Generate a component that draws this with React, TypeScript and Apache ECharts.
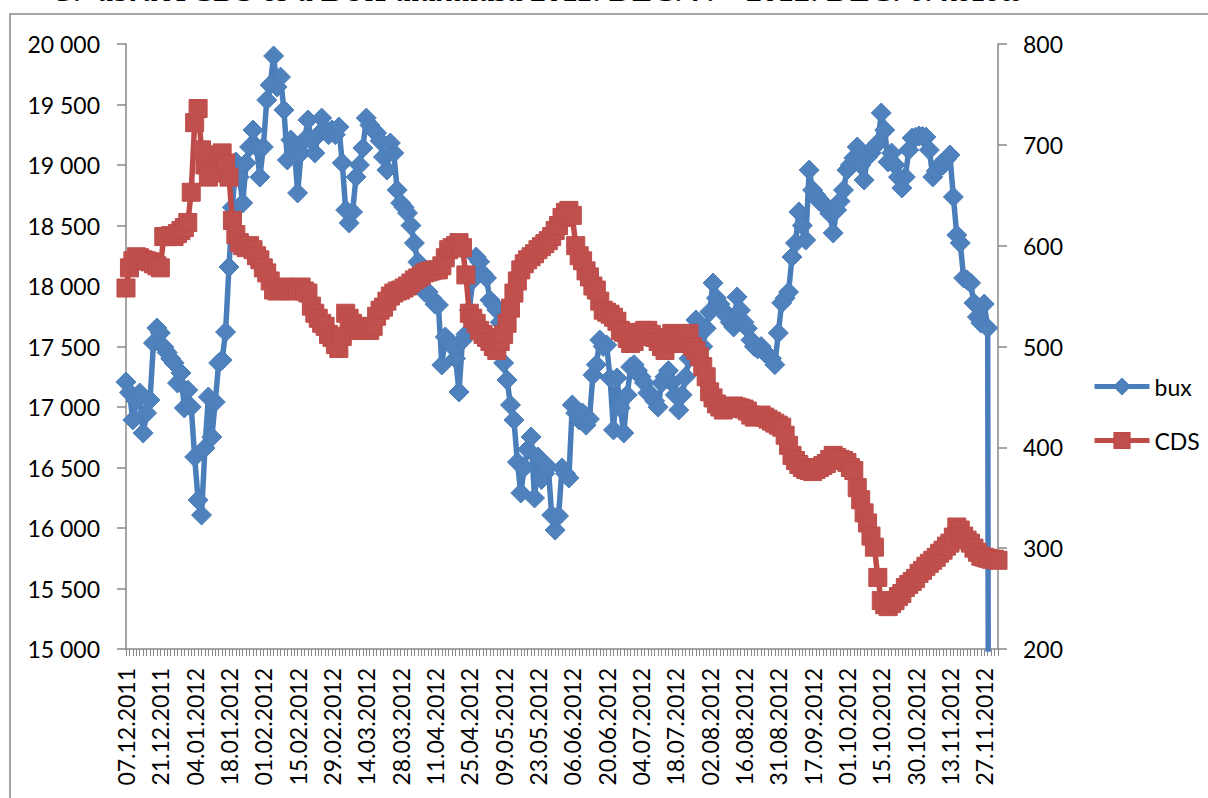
import React, { useEffect, useRef } from "react";
import * as echarts from "echarts";

const tickLabels = [
  "07.12.2011", "21.12.2011", "04.01.2012", "18.01.2012", "01.02.2012", "15.02.2012",
  "29.02.2012", "14.03.2012", "28.03.2012", "11.04.2012", "25.04.2012", "09.05.2012",
  "23.05.2012", "06.06.2012", "20.06.2012", "04.07.2012", "18.07.2012", "02.08.2012",
  "16.08.2012", "31.08.2012", "17.09.2012", "01.10.2012", "15.10.2012", "30.10.2012",
  "13.11.2012", "27.11.2012",
];

const bux = [
  17206, 17120, 16893, 17050, 17116, 16785, 16950, 17058, 17529, 17653,
  17612, 17496, 17450, 17400, 17364, 17198, 17281, 16992, 17140, 17000,
  16587, 16231, 16107, 16661, 17083, 16752, 17041, 17364, 17388, 17620,
  18157, 18650, 19025, 18900, 18686, 19017, 19149, 19289, 19150, 18900,
  19149, 19537, 19661, 19901, 19645, 19727, 19455, 19041, 19207, 19149,
  18769, 19100, 19207, 19372, 19200, 19099, 19250, 19388, 19300, 19250,
  19289, 19250, 19314, 19017, 18628, 18521, 18612, 18901, 19000, 19140,
  19388, 19330, 19290, 19264, 19200, 19066, 18958, 19182, 19099, 18793,
  18686, 18650, 18603, 18500, 18355, 18198, 18100, 17950, 17950, 17900,
  17850, 17843, 17347, 17579, 17550, 17500, 17400, 17124, 17550, 17600,
  17800, 18050, 18240, 18200, 18100, 18066, 17884, 17850, 17802, 17700,
  17364, 17223, 17017, 16893, 16545, 16289, 16500, 16650, 16752, 16248,
  16587, 16400, 16450, 16504, 16107, 15983, 16100, 16496, 16450, 16413,
  17017, 16950, 16893, 16950, 16850, 16900, 17264, 17350, 17554, 17500,
  17512, 17240, 16810, 17240, 16992, 16785, 17100, 17331, 17350, 17300,
  17250, 17200, 17116, 17100, 17050, 16999, 17198, 17250, 17300, 17200,
  17100, 16975, 17100, 17250, 17400, 17550, 17719, 17600, 17500, 17650,
  17785, 18025, 17900, 17850, 17800, 17750, 17700, 17661, 17909, 17800,
  17700, 17650, 17554, 17500, 17480, 17500, 17450, 17430, 17400, 17350,
  17612, 17860, 17900, 17950, 18240, 18355, 18612, 18500, 18380, 18958,
  18793, 18750, 18700, 18686, 18650, 18600, 18438, 18628, 18700, 18793,
  18958, 19000, 19058, 19149, 19000, 18876, 19066, 19100, 19150, 19182,
  19430, 19289, 19025, 19099, 19000, 18900, 18810, 18901, 19124, 19223,
  19230, 19240, 19235, 19231, 19124, 18901, 18950, 19000, 19000, 19050,
  19083, 18736, 18421, 18355, 18066, 18050, 18025, 17860, 17744, 17694,
  17851, 17653, 0, 0, 0,
];

const cds = [
  558, 578, 585, 589, 588, 586, 585, 584, 582, 580,
  578, 609, 609, 610, 609, 612, 615, 618, 623, 653,
  722, 736, 695, 680, 668, 672, 690, 688, 692, 682,
  668, 625, 611, 603, 600, 598, 600, 596, 590, 586,
  578, 573, 565, 556, 555, 556, 559, 557, 556, 555,
  556, 559, 555, 553, 540, 533, 528, 523, 520, 512,
  509, 502, 498, 510, 533, 528, 523, 520, 516, 516,
  518, 516, 520, 530, 536, 539, 545, 550, 553, 555,
  556, 558, 560, 563, 566, 568, 570, 573, 574, 575,
  576, 576, 580, 588, 596, 598, 600, 603, 598, 571,
  533, 528, 523, 516, 512, 509, 505, 500, 496, 505,
  512, 523, 538, 553, 565, 576, 582, 586, 589, 592,
  596, 599, 602, 605, 609, 615, 620, 628, 633, 635,
  630, 600, 590, 585, 575, 569, 560, 556, 545, 536,
  534, 532, 529, 525, 516, 514, 508, 503, 505, 510,
  514, 516, 516, 512, 509, 505, 500, 496, 503, 513,
  510, 505, 503, 510, 513, 500, 496, 490, 480, 470,
  455, 449, 443, 440, 437, 439, 440, 441, 440, 439,
  438, 436, 432, 430, 431, 432, 430, 428, 426, 424,
  422, 420, 412, 402, 392, 387, 383, 380, 378, 377,
  376, 378, 380, 382, 384, 388, 392, 390, 388, 387,
  385, 380, 377, 360, 348, 335, 325, 312, 301, 271,
  248, 244, 242, 245, 248, 252, 255, 261, 264, 267,
  270, 275, 278, 282, 285, 288, 291, 295, 298, 302,
  305, 311, 321, 318, 312, 308, 305, 300, 296, 292,
  291, 290, 289, 289, 288,
];

const titleText = "3.  ábra A CDS és a BUX alakulása 2011. DEC. 7. – 2012. DEC. 6. között";

// Business-day categories: each labelled date followed by the trading days up to the next label.
function buildCategories(): string[] {
  const pad = (n: number) => (n < 10 ? "0" + n : "" + n);
  const fmt = (d: Date) => pad(d.getDate()) + "." + pad(d.getMonth() + 1) + "." + d.getFullYear();
  const out: string[] = [];
  tickLabels.forEach((lab, k) => {
    out.push(lab);
    const [dd, mm, yy] = lab.split(".").map(Number);
    const d = new Date(yy, mm - 1, dd);
    const extra = k < tickLabels.length - 1 ? 9 : bux.length - out.length;
    let c = 0;
    while (c < extra) {
      d.setDate(d.getDate() + 1);
      const wd = d.getDay();
      if (wd !== 0 && wd !== 6) {
        out.push(fmt(d));
        c++;
      }
    }
  });
  return out;
}

const categories = buildCategories();

const FONT = "Lato, 'Liberation Sans', sans-serif";
const AXIS = "#898989";

export default function App() {
  const ref = useRef<HTMLDivElement>(null);
  useEffect(() => {
    if (!ref.current) return;
    const chart = echarts.init(ref.current, undefined, { renderer: "svg" });
    const fmtThousands = (v: number) => String(v).replace(/\B(?=(\d{3})+(?!\d))/g, " ");
    chart.setOption({
      animation: false,
      backgroundColor: "#ffffff",
      textStyle: { fontFamily: FONT },
      graphic: [
        {
          type: "rect",
          silent: true,
          z: -10,
          shape: { x: 10, y: 14, width: 1400, height: 1000 },
          style: { fill: "none", stroke: AXIS, lineWidth: 1.5 },
        },
        {
          type: "text",
          silent: true,
          x: 58,
          y: 6,
          style: {
            text: titleText,
            font: "italic bold 32px 'Liberation Serif', serif",
            fill: "#000",
            verticalAlign: "bottom",
          },
        },
      ],
      grid: {
        left: 126,
        right: 210,
        top: 44,
        bottom: 149,
        containLabel: false,
        outerBoundsMode: "none",
      },
      legend: {
        orient: "vertical",
        left: 1092,
        top: 375,
        padding: 0,
        itemWidth: 55,
        itemHeight: 19,
        itemGap: 31,
        lineStyle: { width: 5 },
        textStyle: { fontFamily: FONT, fontSize: 23, color: "#000" },
        data: ["bux", "CDS"],
      },
      xAxis: {
        type: "category",
        data: categories,
        boundaryGap: false,
        axisLine: { show: true, lineStyle: { color: AXIS, width: 1.5 } },
        axisTick: { show: true, interval: 0, length: 7, lineStyle: { color: AXIS, width: 1 } },
        axisLabel: {
          interval: 9,
          rotate: 90,
          margin: 19,
          fontFamily: FONT,
          fontSize: 23,
          color: "#000",
        },
        splitLine: { show: false },
      },
      yAxis: [
        {
          type: "value",
          min: 15000,
          max: 20000,
          interval: 500,
          position: "left",
          axisLine: { show: true, lineStyle: { color: AXIS, width: 1.5 } },
          axisTick: { show: true, length: 9, lineStyle: { color: AXIS, width: 1.5 } },
          axisLabel: {
            margin: 26,
            fontFamily: FONT,
            fontSize: 23,
            color: "#000",
            formatter: fmtThousands,
          },
          splitLine: { show: false },
        },
        {
          type: "value",
          min: 200,
          max: 800,
          interval: 100,
          position: "right",
          axisLine: { show: true, lineStyle: { color: AXIS, width: 1.5 } },
          axisTick: { show: true, length: 9, lineStyle: { color: AXIS, width: 1.5 } },
          axisLabel: { margin: 25, fontFamily: FONT, fontSize: 23, color: "#000" },
          splitLine: { show: false },
        },
      ],
      series: [
        {
          name: "bux",
          type: "line",
          yAxisIndex: 0,
          data: bux,
          clip: true,
          symbol: "diamond",
          symbolSize: 20,
          showAllSymbol: true,
          lineStyle: { color: "#4A7EBB", width: 5.5 },
          itemStyle: { color: "#4F81BD", borderColor: "#4A7EBB", borderWidth: 1 },
          z: 2,
        },
        {
          name: "CDS",
          type: "line",
          yAxisIndex: 1,
          data: cds,
          clip: true,
          symbol: "rect",
          symbolSize: 18,
          showAllSymbol: true,
          lineStyle: { color: "#BE4B48", width: 5.5 },
          itemStyle: { color: "#C0504D", borderColor: "#BE4B48", borderWidth: 1 },
          z: 3,
        },
      ],
    });
    return () => chart.dispose();
  }, []);
  return (
    <div style={{ position: "fixed", left: 0, top: 0, width: 1208, height: 798, background: "#fff" }}>
      <div ref={ref} style={{ width: 1208, height: 798 }} />
    </div>
  );
}
